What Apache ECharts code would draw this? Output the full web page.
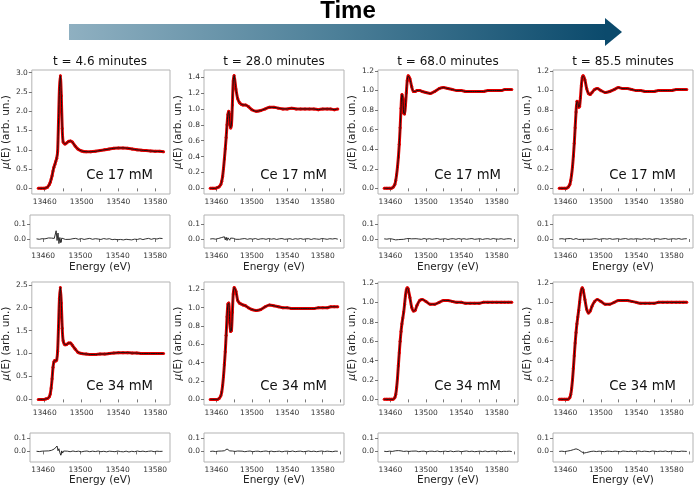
<!DOCTYPE html>
<html>
<head>
<meta charset="utf-8">
<script src="https://cdn.jsdelivr.net/npm/echarts@6/dist/echarts.min.js"></script>
<style>
html, body { margin: 0; padding: 0; background: #fff; }
#main { width: 696px; height: 487px; }
</style>
</head>
<body>
<div id="main"></div>
<script>
// column titles and sample labels
var times = ['t = 4.6 minutes', 't = 28.0 minutes', 't = 68.0 minutes', 't = 85.5 minutes'];
var samples = ['Ce 17 mM', 'Ce 34 mM'];

// energy grid of the spectra (eV)
var energy = [13453, 13456, 13459, 13461, 13463, 13465, 13466, 13467, 13468, 13469,
    13470, 13471, 13472, 13473, 13474, 13475, 13476, 13477, 13478, 13479,
    13480, 13482, 13484, 13486, 13488, 13490, 13493, 13496, 13500, 13505,
    13510, 13515, 13520, 13525, 13530, 13535, 13540, 13545, 13550, 13555,
    13560, 13565, 13570, 13575, 13580, 13585, 13589, 13593, 13597];

// energy grid of the residuals (eV)
var resEnergy = [13453, 13456, 13459, 13462, 13464, 13466, 13468, 13469, 13470, 13471,
    13472, 13473, 13474, 13475, 13476, 13477, 13478, 13479, 13480, 13481,
    13482, 13484, 13486, 13489, 13492, 13495, 13498, 13501, 13504, 13507,
    13510, 13513, 13516, 13519, 13522, 13525, 13528, 13531, 13534, 13537,
    13540, 13543, 13546, 13549, 13552, 13555, 13558, 13561, 13564, 13567,
    13570, 13573, 13576, 13579, 13582, 13585, 13588, 13591, 13594, 13597];

// mu(E), Ce 17 mM
var mu17a = [0.00, 0.00, 0.00, 0.01, 0.03, 0.10, 0.16, 0.24, 0.33, 0.45,
    0.55, 0.62, 0.70, 0.78, 0.95, 1.75, 2.60, 2.92, 2.40, 1.55,
    1.20, 1.15, 1.18, 1.22, 1.23, 1.20, 1.10, 1.02, 0.97, 0.95,
    0.95, 0.96, 0.98, 1.00, 1.02, 1.04, 1.05, 1.05, 1.04, 1.02,
    1.00, 0.99, 0.98, 0.97, 0.96, 0.96, 0.95];
var mu17b = [0.00, 0.00, 0.00, 0.01, 0.02, 0.05, 0.09, 0.15, 0.25, 0.37,
    0.50, 0.64, 0.80, 0.93, 0.97, 0.85, 0.76, 0.80, 1.05, 1.35,
    1.42, 1.25, 1.13, 1.08, 1.06, 1.05, 1.05, 1.03, 0.99, 0.97,
    0.98, 1.00, 1.02, 1.02, 1.01, 1.00, 1.00, 1.01, 1.00, 1.00,
    1.00, 1.00, 1.00, 0.99, 1.00, 1.00, 1.00, 0.99, 1.00];
var mu17c = [0.00, 0.00, 0.00, 0.00, 0.01, 0.04, 0.08, 0.14, 0.22, 0.32,
    0.45, 0.62, 0.82, 0.96, 0.92, 0.77, 0.76, 0.85, 0.98, 1.10,
    1.15, 1.12, 1.04, 0.99, 0.99, 1.00, 1.00, 0.99, 0.98, 0.97,
    0.99, 1.02, 1.03, 1.02, 1.01, 1.00, 1.00, 0.99, 0.99, 0.99,
    0.99, 0.99, 1.00, 1.00, 1.00, 1.00, 1.01, 1.01, 1.01];
var mu17d = [0.00, 0.00, 0.00, 0.00, 0.01, 0.04, 0.08, 0.14, 0.22, 0.33,
    0.46, 0.62, 0.78, 0.89, 0.88, 0.83, 0.84, 0.93, 1.05, 1.13,
    1.15, 1.11, 1.02, 0.97, 0.96, 0.98, 1.01, 1.02, 1.00, 0.98,
    0.99, 1.01, 1.03, 1.02, 1.02, 1.01, 1.00, 1.00, 0.99, 0.99,
    0.99, 1.00, 1.00, 1.00, 1.00, 1.01, 1.01, 1.01, 1.01];

// mu(E), Ce 34 mM
var mu34a = [0.00, 0.00, 0.00, 0.01, 0.02, 0.06, 0.12, 0.25, 0.45, 0.70,
    0.82, 0.85, 0.84, 0.86, 1.05, 1.60, 2.20, 2.44, 2.10, 1.55,
    1.28, 1.19, 1.20, 1.23, 1.23, 1.18, 1.10, 1.03, 1.00, 0.99,
    0.98, 0.98, 0.99, 0.99, 1.00, 1.01, 1.02, 1.02, 1.02, 1.01,
    1.01, 1.00, 1.00, 1.00, 1.00, 1.00, 1.00];
var mu34b = [0.00, 0.00, 0.00, 0.00, 0.01, 0.04, 0.08, 0.15, 0.25, 0.38,
    0.52, 0.70, 0.90, 1.04, 1.05, 0.85, 0.74, 0.75, 0.95, 1.15,
    1.22, 1.18, 1.08, 1.05, 1.04, 1.03, 1.02, 1.00, 0.98, 0.97,
    0.98, 1.01, 1.03, 1.02, 1.01, 1.00, 1.00, 0.99, 0.99, 0.99,
    0.99, 0.99, 0.99, 1.00, 1.00, 1.00, 1.01, 1.01, 1.01];
var mu34c = [0.00, 0.00, 0.00, 0.00, 0.00, 0.02, 0.05, 0.12, 0.22, 0.35,
    0.48, 0.60, 0.70, 0.78, 0.84, 0.90, 0.98, 1.07, 1.13, 1.15,
    1.14, 1.05, 0.95, 0.91, 0.92, 0.97, 1.02, 1.03, 1.01, 0.98,
    0.98, 1.00, 1.02, 1.02, 1.01, 1.00, 1.00, 0.99, 0.99, 0.99,
    0.99, 1.00, 1.00, 1.00, 1.00, 1.00, 1.00, 1.00, 1.00];
var mu34d = [0.00, 0.00, 0.00, 0.00, 0.00, 0.02, 0.05, 0.11, 0.20, 0.32,
    0.45, 0.58, 0.69, 0.78, 0.85, 0.92, 1.00, 1.08, 1.13, 1.15,
    1.13, 1.03, 0.93, 0.89, 0.91, 0.96, 1.01, 1.03, 1.01, 0.98,
    0.98, 1.00, 1.02, 1.02, 1.02, 1.01, 1.00, 0.99, 0.99, 0.99,
    0.99, 1.00, 1.00, 1.00, 1.00, 1.00, 1.00, 1.00, 1.00];

// fit residuals
var res17a = [0.001, -0.002, 0.002, 0.001, 0.004, 0.007, 0.010, 0.006, 0.012, 0.008,
    0.004, 0.015, 0.055, -0.010, 0.040, -0.030, 0.010, -0.025, 0.006, -0.004,
    0.002, -0.003, 0.003, -0.002, 0.002, 0.004, -0.002, 0.003, -0.003, 0.001,
    0.004, -0.002, 0.002, 0.000, -0.003, 0.003, -0.001, 0.002, -0.004, -0.002,
    -0.005, -0.003, -0.006, -0.002, -0.004, -0.006, -0.001, -0.003, 0.002, -0.004,
    0.001, 0.004, -0.002, 0.003, 0.000, 0.005, 0.003];
var res17b = [0.000, 0.002, -0.001, 0.003, 0.006, 0.010, 0.004, 0.015, -0.006, 0.012,
    -0.010, 0.008, 0.014, -0.008, 0.006, -0.004, 0.003, 0.005, -0.003, 0.002,
    -0.002, 0.003, -0.002, 0.001, 0.003, -0.002, 0.002, -0.001, 0.003, -0.003,
    0.001, 0.002, -0.002, 0.003, -0.001, 0.002, -0.003, 0.001, 0.003, -0.002,
    0.000, 0.002, -0.003, 0.002, -0.001, 0.003, -0.002, 0.001, 0.002, -0.003,
    0.002, 0.000, -0.002, 0.003, 0.001, -0.002, 0.002, 0.000, 0.003, -0.001];
var res17c = [0.001, -0.001, 0.002, 0.000, -0.003, -0.006, -0.010, -0.004, -0.008, 0.002,
    -0.003, 0.004, 0.002, -0.002, 0.003, -0.001, 0.002, -0.002, 0.001, 0.003,
    -0.002, 0.001, -0.003, 0.002, 0.000, -0.002, 0.003, -0.001, 0.002, -0.002,
    0.001, 0.003, -0.002, 0.000, 0.002, -0.003, 0.001, 0.002, -0.002, 0.003,
    -0.001, 0.002, -0.002, 0.001, 0.003, -0.002, 0.000, 0.002, -0.003, 0.001,
    0.002, -0.002, 0.003, 0.000, -0.001, 0.002, -0.002, 0.001, 0.002, -0.001];
var res17d = [0.000, 0.002, -0.001, 0.002, -0.002, 0.003, 0.001, -0.003, 0.004, -0.002,
    0.003, -0.001, 0.002, -0.003, 0.001, 0.003, -0.002, 0.002, 0.000, -0.002,
    0.002, -0.001, 0.003, -0.002, 0.001, 0.002, -0.003, 0.001, 0.002, -0.001,
    0.003, -0.002, 0.000, 0.002, -0.002, 0.001, 0.003, -0.002, 0.001, -0.001,
    0.002, 0.000, -0.002, 0.003, -0.001, 0.002, -0.003, 0.001, 0.002, -0.002,
    0.001, 0.003, -0.002, 0.000, 0.002, -0.001, 0.003, -0.002, 0.001, 0.002];
var res34a = [0.001, -0.001, 0.002, 0.003, 0.005, 0.004, 0.010, 0.008, 0.015, 0.012,
    0.018, 0.010, 0.022, 0.040, 0.005, 0.020, -0.010, -0.028, 0.004, -0.012,
    0.003, -0.004, 0.002, -0.002, 0.003, -0.001, 0.002, -0.003, 0.001, 0.003,
    -0.002, 0.002, -0.001, 0.003, -0.002, 0.001, -0.003, 0.002, 0.000, -0.002,
    0.003, -0.001, -0.003, 0.002, -0.004, 0.001, -0.002, 0.003, -0.001, 0.002,
    -0.002, 0.001, 0.003, -0.002, 0.002, 0.000, 0.001];
var res34b = [0.000, 0.002, -0.001, 0.002, 0.004, 0.003, 0.008, 0.005, 0.012, 0.006,
    0.018, 0.008, 0.014, 0.004, 0.006, -0.002, 0.003, -0.003, 0.002, 0.000,
    -0.002, 0.003, -0.001, 0.002, -0.002, 0.001, 0.003, -0.002, 0.001, 0.002,
    -0.002, 0.001, 0.003, -0.001, 0.002, -0.002, 0.000, 0.002, -0.003, 0.001,
    0.002, -0.001, 0.003, -0.002, 0.001, 0.002, -0.002, 0.000, 0.003, -0.001,
    0.002, -0.002, 0.001, 0.003, -0.001, 0.002, 0.000, -0.002, 0.002, 0.001];
var res34c = [0.001, -0.001, 0.002, 0.000, 0.003, 0.005, 0.008, 0.006, 0.010, 0.007,
    0.004, 0.002, 0.005, 0.000, 0.003, -0.002, 0.002, -0.001, 0.003, 0.000,
    -0.002, 0.002, -0.001, 0.003, -0.002, 0.001, 0.002, -0.003, 0.001, 0.002,
    -0.001, 0.003, -0.002, 0.000, 0.002, -0.001, 0.003, -0.002, 0.001, 0.002,
    -0.002, 0.001, 0.003, -0.001, 0.002, -0.002, 0.000, 0.002, -0.001, 0.003,
    -0.002, 0.001, 0.002, -0.001, 0.003, -0.002, 0.001, 0.000, 0.002, -0.001];
var res34d = [0.000, 0.002, -0.001, 0.002, 0.004, 0.007, 0.010, 0.013, 0.016, 0.018,
    0.019, 0.018, 0.016, 0.012, 0.008, 0.003, -0.002, -0.007, -0.010, -0.012,
    -0.011, -0.008, -0.004, 0.000, 0.002, -0.001, 0.002, 0.000, -0.002, 0.002,
    0.001, -0.001, 0.002, 0.000, -0.002, 0.003, 0.001, -0.001, 0.002, -0.002,
    0.001, 0.003, -0.001, 0.002, 0.000, -0.002, 0.003, 0.001, -0.001, 0.002,
    0.000, 0.003, -0.002, 0.001, 0.002, 0.000, -0.001, 0.002, 0.001, 0.000];

// tick values
var xTicks = [13460, 13480, 13500, 13520, 13540, 13560, 13580, 13600];
var xTickLabels = [13460, 13500, 13540, 13580];
var yTicks30 = [0, 0.5, 1, 1.5, 2, 2.5, 3];
var yTicks25 = [0, 0.5, 1, 1.5, 2, 2.5];
var yTicks14 = [0, 0.2, 0.4, 0.6, 0.8, 1, 1.2, 1.4];
var yTicks12 = [0, 0.2, 0.4, 0.6, 0.8, 1, 1.2];
var resTicks = [0, 0.1];

// layout
var colLeft = [30, 204, 378, 553];
var boxW = 140;
var mainTop = [70, 282], mainH = [124, 123];
var resTop = [215, 433], resH = [33, 29];
var resRange = [[-0.06, 0.16], [-0.078, 0.136]];

var panels = [
    {mu: mu17a, res: res17a, yMin: -0.146, yMax: 3.07, yTicks: yTicks30, xMax: 13596},
    {mu: mu17b, res: res17b, yMin: -0.071, yMax: 1.49, yTicks: yTicks14, xMax: 13604},
    {mu: mu17c, res: res17c, yMin: -0.058, yMax: 1.21, yTicks: yTicks12, xMax: 13604},
    {mu: mu17d, res: res17d, yMin: -0.058, yMax: 1.21, yTicks: yTicks12, xMax: 13604},
    {mu: mu34a, res: res34a, yMin: -0.122, yMax: 2.56, yTicks: yTicks25, xMax: 13596},
    {mu: mu34b, res: res34b, yMin: -0.061, yMax: 1.28, yTicks: yTicks12, xMax: 13604},
    {mu: mu34c, res: res34c, yMin: -0.058, yMax: 1.21, yTicks: yTicks12, xMax: 13604},
    {mu: mu34d, res: res34d, yMin: -0.058, yMax: 1.21, yTicks: yTicks12, xMax: 13604}
];

var FONT = 'DejaVu Sans';
var tickLabel = {fontSize: 7.5, color: '#333', fontFamily: FONT, margin: 4};
var tickStyle = {show: true, length: 3, lineStyle: {color: '#555', width: 0.8}};

function pairs(xs, ys) {
    return ys.map(function (v, i) { return [xs[i], v]; });
}

var grids = [], xAxes = [], yAxes = [], series = [], graphics = [];

function addAxes(left, top, height, xMax, yMin, yMax, yTicks, withName, nameGap) {
    var g = grids.length;
    grids.push({left: left, top: top, width: boxW, height: height, show: true,
        borderColor: '#b3b3b3', borderWidth: 1, backgroundColor: 'transparent'});
    var ticks = xTicks.filter(function (v) { return v <= xMax; });
    xAxes.push({
        gridIndex: g, type: 'value', min: 13446, max: xMax,
        name: withName ? 'Energy (eV)' : '', nameLocation: 'middle', nameGap: nameGap,
        nameTextStyle: {fontSize: 10.5, color: '#222', fontFamily: FONT},
        axisLine: {show: false}, splitLine: {show: false},
        axisTick: Object.assign({customValues: ticks}, tickStyle),
        axisLabel: Object.assign({customValues: xTickLabels, formatter: function (v) { return String(v); }}, tickLabel)
    });
    yAxes.push({
        gridIndex: g, type: 'value', min: yMin, max: yMax,
        axisLine: {show: false}, splitLine: {show: false},
        axisTick: Object.assign({customValues: yTicks}, tickStyle),
        axisLabel: Object.assign({customValues: yTicks, formatter: function (v) { return v.toFixed(1); }}, tickLabel)
    });
    return g;
}

panels.forEach(function (p, i) {
    var row = Math.floor(i / 4), col = i % 4;
    var left = colLeft[col];

    var g = addAxes(left, mainTop[row], mainH[row], p.xMax, p.yMin, p.yMax, p.yTicks, false, 0);
    yAxes[g].name = '{i|μ}(E) (arb. un.)';
    yAxes[g].nameLocation = 'middle';
    yAxes[g].nameGap = 17;
    yAxes[g].nameTextStyle = {fontSize: 10.5, color: '#222', fontFamily: FONT,
        rich: {i: {fontSize: 10.5, fontStyle: 'italic', fontFamily: FONT, color: '#222'}}};

    var data = pairs(energy, p.mu);
    series.push({
        type: 'line', xAxisIndex: g, yAxisIndex: g, data: data, smooth: 0.25,
        symbol: 'circle', symbolSize: 3, itemStyle: {color: '#e30000'},
        lineStyle: {color: '#e30000', width: 3}, z: 2
    });
    series.push({
        type: 'line', xAxisIndex: g, yAxisIndex: g, data: data, smooth: 0.25,
        symbol: 'none', lineStyle: {color: '#111', width: 1}, z: 3
    });

    var r = addAxes(left, resTop[row], resH[row], p.xMax, resRange[row][0], resRange[row][1], resTicks, true, row === 0 ? 14 : 12);
    series.push({
        type: 'line', xAxisIndex: r, yAxisIndex: r, data: pairs(resEnergy, p.res),
        symbol: 'none', lineStyle: {color: '#1a1a1a', width: 0.9}
    });

    graphics.push({
        type: 'text', x: left + boxW - 17, y: mainTop[row] + mainH[row] - 18,
        style: {text: samples[row], font: '13.2px "DejaVu Sans"', fill: '#111',
            align: 'right', verticalAlign: 'middle'}
    });
    if (row === 0) {
        graphics.push({
            type: 'text', x: left + boxW / 2, y: 62,
            style: {text: times[col], font: '12px "DejaVu Sans"', fill: '#111',
                align: 'center', verticalAlign: 'middle'}
        });
    }
});

// time arrow header
graphics.push({
    type: 'rect', shape: {x: 69, y: 24, width: 537, height: 16},
    style: {fill: new echarts.graphic.LinearGradient(0, 0, 1, 0, [
        {offset: 0, color: '#8fb0c1'}, {offset: 0.5, color: '#4c7f98'}, {offset: 1, color: '#0b4a6c'}])}
});
graphics.push({
    type: 'polygon', shape: {points: [[605, 18], [622, 32], [605, 46]]},
    style: {fill: '#0b4a6c'}
});
graphics.push({
    type: 'text', x: 348, y: 11,
    style: {text: 'Time', font: 'bold 24px "Liberation Sans Narrow", "Liberation Sans", sans-serif',
        fill: '#000', align: 'center', verticalAlign: 'middle'}
});

var chart = echarts.init(document.getElementById('main'));
chart.setOption({
    animation: false,
    backgroundColor: '#fff',
    grid: grids,
    xAxis: xAxes,
    yAxis: yAxes,
    series: series,
    graphic: graphics
});
</script>
</body>
</html>
